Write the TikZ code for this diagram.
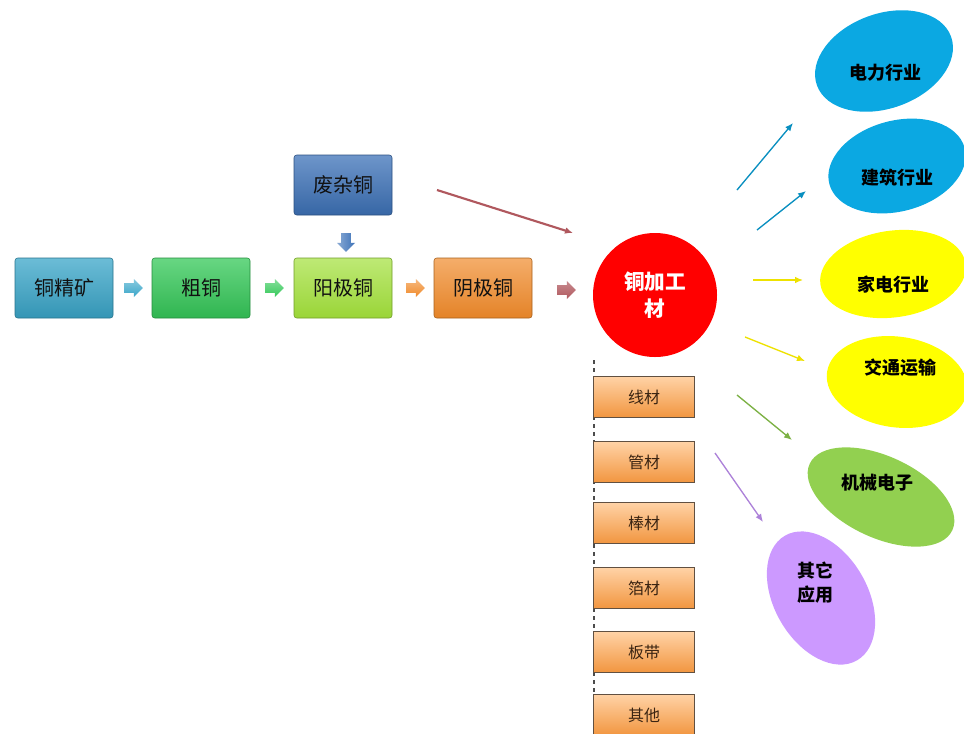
\documentclass[tikz,border=0pt]{standalone}
\usepackage{fontspec}
\newfontfamily\cjk{Noto Sans CJK SC}
\usepackage{tikz}
\usetikzlibrary{arrows.meta,shapes.geometric,shapes.arrows}
\definecolor{celeste}{HTML}{3AA6C9}
\definecolor{verde}{HTML}{35C959}
\definecolor{lima}{HTML}{A2E03A}
\definecolor{naranja}{HTML}{F08A2A}
\definecolor{azulcaja}{HTML}{3D72B8}
\definecolor{granate}{HTML}{B0585E}
\definecolor{rojo}{HTML}{FF0000}
\definecolor{azulelipse}{HTML}{0BA8E2}
\definecolor{amarillo}{HTML}{FFFF00}
\definecolor{verdelipse}{HTML}{92D050}
\definecolor{lila}{HTML}{CC99FF}
\definecolor{tinta}{HTML}{111111}
\definecolor{cafe}{HTML}{3A2412}
\tikzset{
  caja/.style={rectangle,rounded corners=2pt,minimum width=73.5pt,minimum height=45pt,inner sep=0pt,font=\cjk\fontsize{15}{18}\selectfont,text=tinta},
  cajita/.style={rectangle,draw=cafe!80,line width=0.8pt,top color=orange!35!white,bottom color=naranja!90,minimum width=75.75pt,minimum height=30.75pt,inner sep=0pt,font=\cjk\fontsize{12}{14}\selectfont,text=cafe},
  flechita/.style={single arrow,single arrow head extend=3pt,text height=7pt,text depth=0pt,minimum width=13.5pt,minimum height=14pt,inner sep=0pt,draw=none},
  elipse/.style={ellipse,inner sep=0pt,draw=none},
  rotulo/.style={font=\cjk\bfseries\fontsize{13.5}{18}\selectfont,text=black,align=center},
  flecha/.style={-{Latex[length=6pt,width=5pt]},line width=1pt},
}
\begin{document}
\begin{tikzpicture}[x=0.75pt,y=-0.75pt]
\clip (0,0) rectangle (964,733);
\fill[white] (0,0) rectangle (964,733);
% cadena de produccion
\node[caja,draw=celeste!70!black,top color=celeste!75!white,bottom color=celeste!90!black] (concentrado) at (64,288) {铜精矿};
\node[caja,draw=verde!70!black,top color=verde!75!white,bottom color=verde!90!black] (blister) at (201,288) {粗铜};
\node[caja,draw=lima!70!black,top color=lima!70!white,bottom color=lima!95!black] (anodo) at (343,288) {阳极铜};
\node[caja,draw=naranja!70!black,top color=naranja!70!white,bottom color=naranja!95!black] (catodo) at (483,288) {阴极铜};
\node[caja,draw=azulcaja!70!black,top color=azulcaja!75!white,bottom color=azulcaja!90!black] (chatarra) at (343,185) {废杂铜};
\node[flechita,top color=celeste!60!white,bottom color=celeste] (f1) at (131,288) {};
\node[flechita,top color=verde!60!white,bottom color=verde] (f2) at (272,288) {};
\node[flechita,top color=naranja!60!white,bottom color=naranja] (f3) at (413,288) {};
\node[flechita,top color=granate!70!white,bottom color=granate] (f4) at (564,290) {};
\node[flechita,rotate=-90,left color=azulcaja!60!white,right color=azulcaja] (f5) at (346,240) {};
% material procesado
\node[circle,fill=rojo,minimum size=93pt,inner sep=0pt,font=\cjk\bfseries\fontsize{15.5}{20}\selectfont,text=white,align=center] (procesado) at (655,295) {铜加工\\材};
\coordinate (r1) at (437,190);
\coordinate (r2) at (573,233);
\draw[flecha,granate,line width=1.6pt] (r1) -- (r2);
\coordinate (t1) at (594,360);
\coordinate (t2) at (594,733);
\draw[black!70,dashed,line width=1pt] (t1) -- (t2);
\node[cajita] (alambre) at (644,397) {线材};
\node[cajita] (tubo) at (644,462) {管材};
\node[cajita] (barra) at (644,523) {棒材};
\node[cajita] (lamina) at (644,588) {箔材};
\node[cajita] (placa) at (644,652) {板带};
\node[cajita] (otros) at (644,715) {其他};
% sectores
\node[elipse,fill=azulelipse,minimum width=107pt,minimum height=71pt,rotate=20] (electrico) at (884,61) {};
\node[rotulo] at (885,73) {电力行业};
\node[elipse,fill=azulelipse,minimum width=105pt,minimum height=68pt,rotate=15] (construccion) at (897,166) {};
\node[rotulo] at (897,178) {建筑行业};
\node[elipse,fill=amarillo,minimum width=110pt,minimum height=65pt,rotate=8] (hogar) at (893,274) {};
\node[rotulo] at (893,285) {家电行业};
\node[elipse,fill=amarillo,minimum width=106pt,minimum height=68pt,rotate=-8] (transporte) at (897,382) {};
\node[rotulo] at (900,368) {交通运输};
\node[elipse,fill=verdelipse,minimum width=118pt,minimum height=61pt,rotate=-25] (maquinaria) at (881,497) {};
\node[rotulo] at (877,483) {机械电子};
\node[elipse,fill=lila,minimum width=108pt,minimum height=70pt,rotate=-60] (otrosusos) at (821,598) {};
\node[rotulo] at (815,583) {其它\\应用};
\coordinate (a1) at (737,190);
\coordinate (b1) at (793,123);
\coordinate (a2) at (757,230);
\coordinate (b2) at (806,191);
\coordinate (a3) at (753,280);
\coordinate (b3) at (803,280);
\coordinate (a4) at (745,337);
\coordinate (b4) at (805,361);
\coordinate (a5) at (737,395);
\coordinate (b5) at (792,440);
\coordinate (a6) at (715,453);
\coordinate (b6) at (763,522);
\draw[flecha,draw=azulelipse!85!black,fill=azulelipse!85!black] (a1) -- (b1);
\draw[flecha,draw=azulelipse!85!black,fill=azulelipse!85!black] (a2) -- (b2);
\draw[flecha,draw=yellow!85!olive,fill=yellow!85!olive] (a3) -- (b3);
\draw[flecha,draw=yellow!85!olive,fill=yellow!85!olive] (a4) -- (b4);
\draw[flecha,draw=verdelipse!85!black,fill=verdelipse!85!black] (a5) -- (b5);
\draw[flecha,draw=lila!85!black,fill=lila!85!black] (a6) -- (b6);
\end{tikzpicture}
\end{document}
